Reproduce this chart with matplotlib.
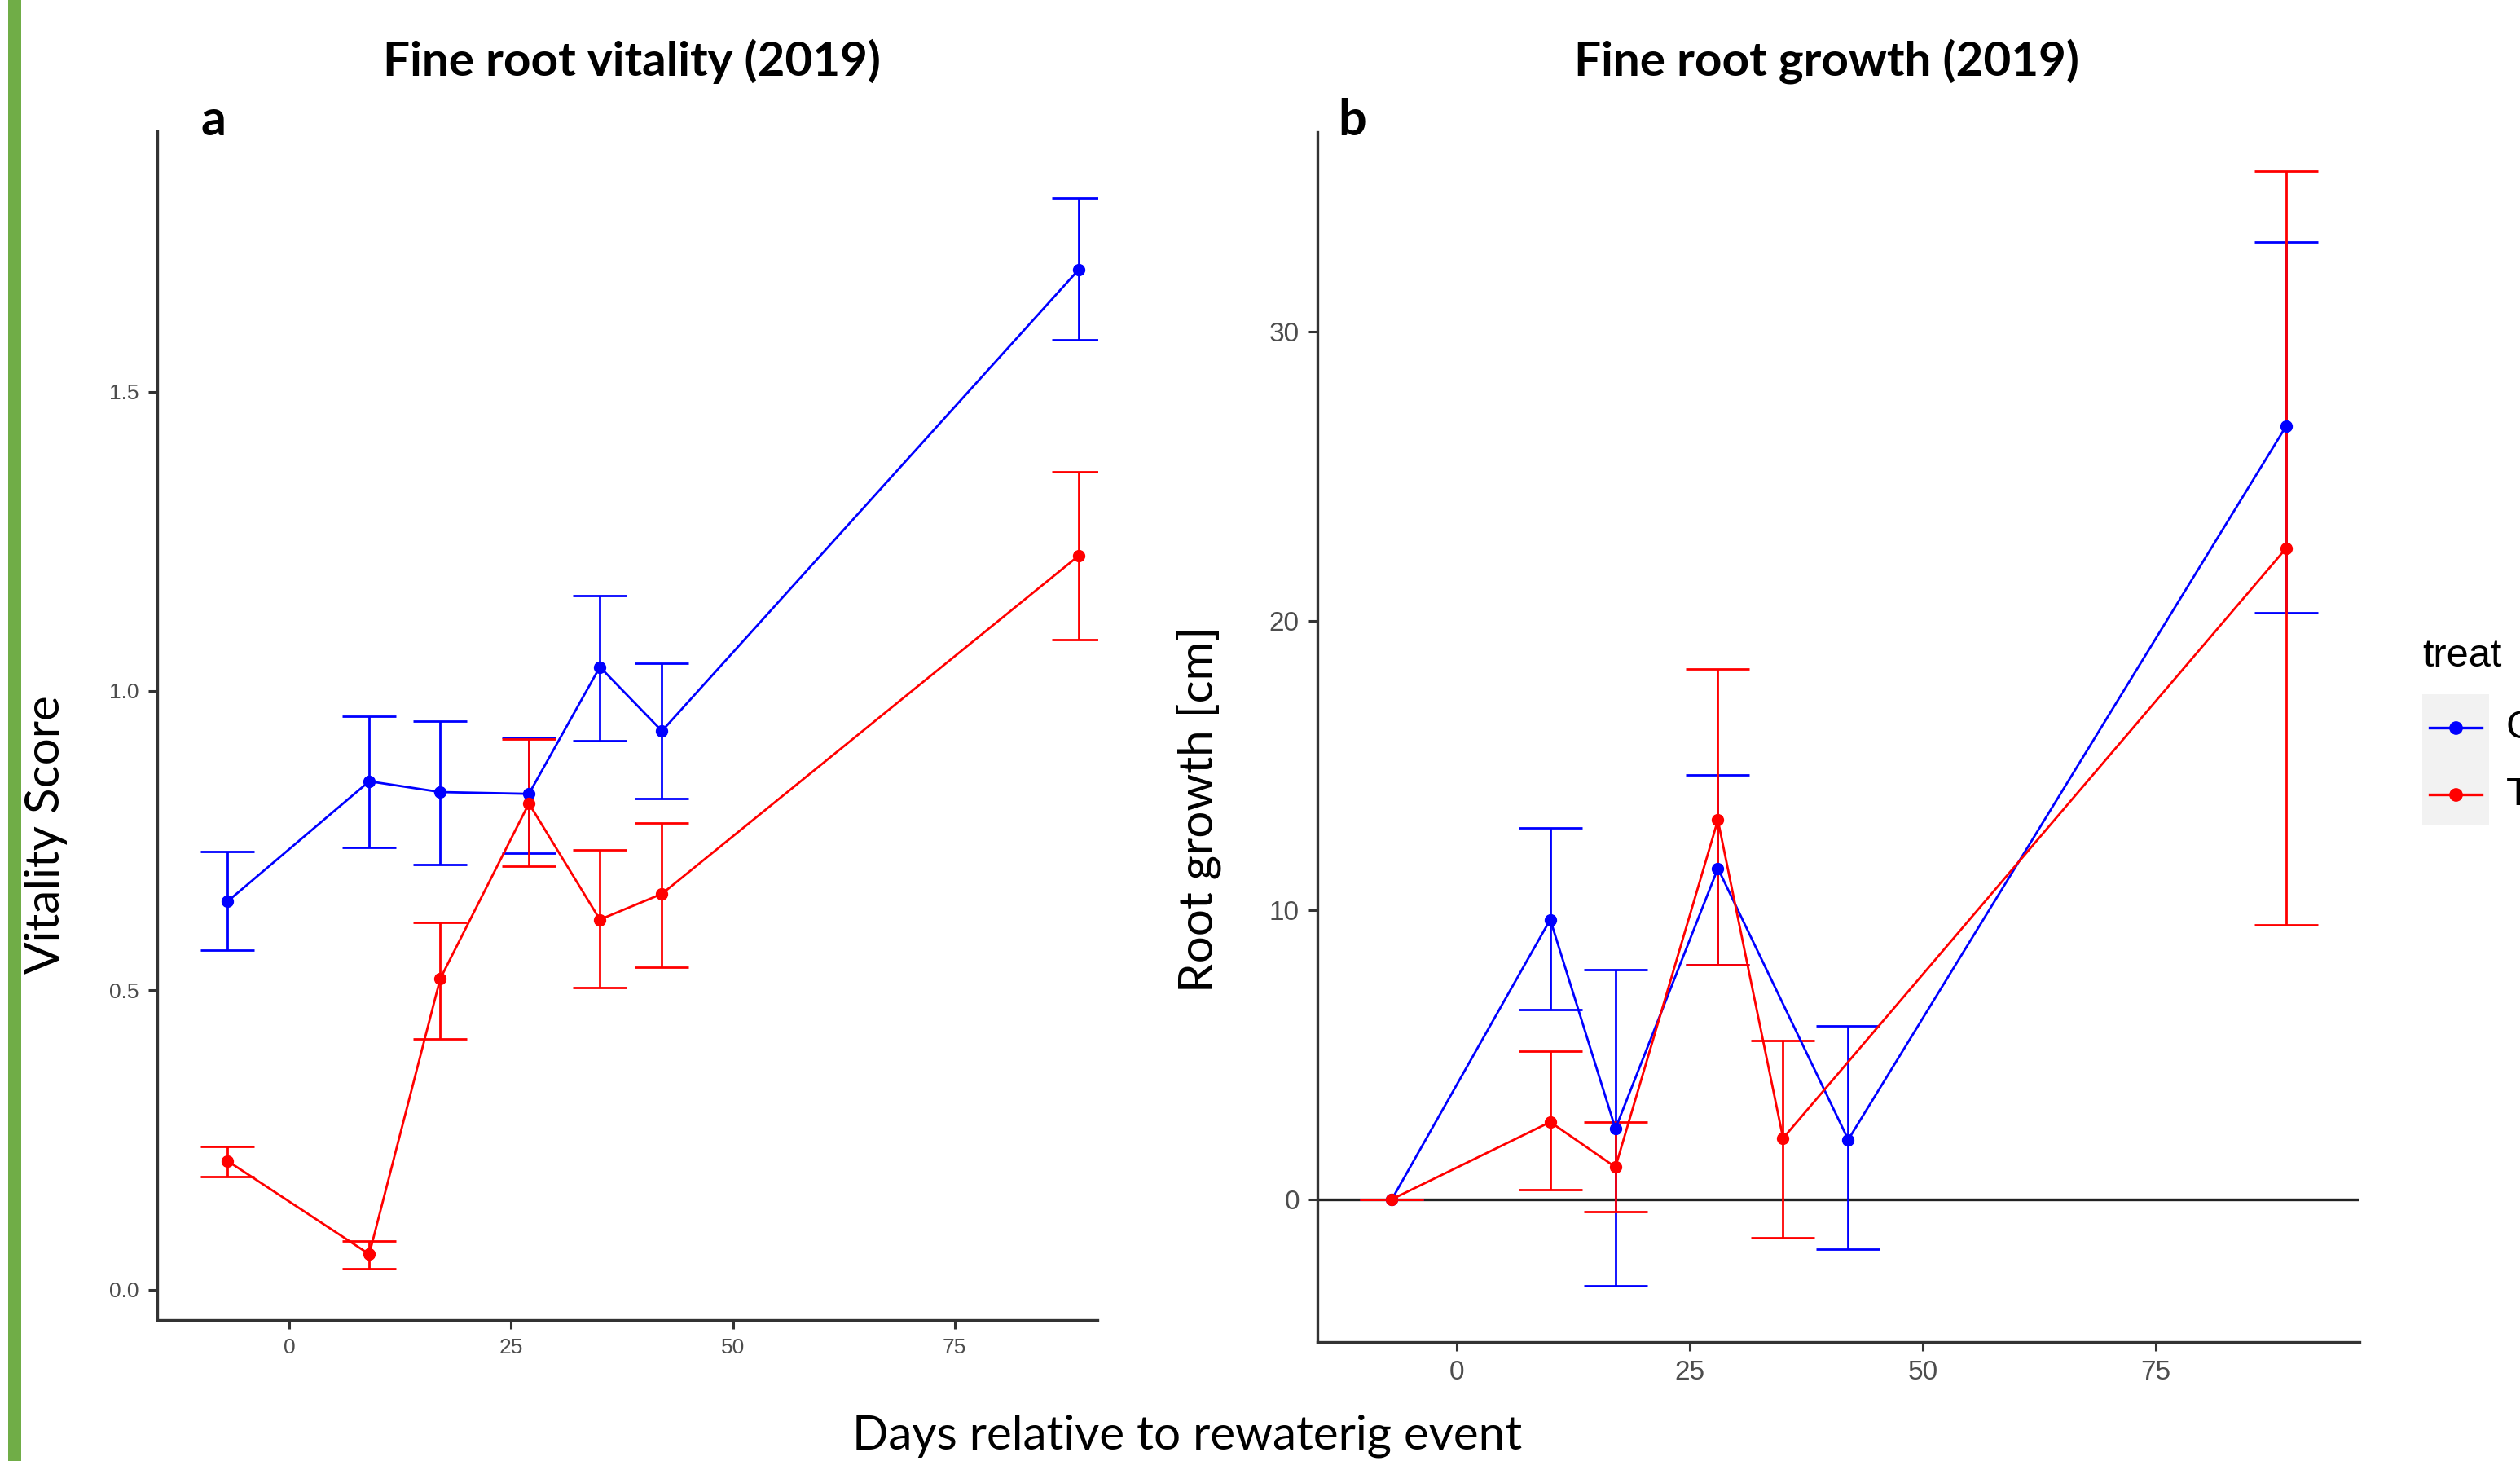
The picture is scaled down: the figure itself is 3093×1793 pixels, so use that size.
import matplotlib.pyplot as plt
from matplotlib.lines import Line2D
from matplotlib.patches import Rectangle

# ---- data ----
days_a = [-7, 9, 17, 27, 35, 42, 89]
vit_c = [0.648, 0.849, 0.831, 0.828, 1.040, 0.933, 1.704]
vit_c_lo = [0.567, 0.739, 0.710, 0.729, 0.917, 0.820, 1.586]
vit_c_hi = [0.731, 0.957, 0.949, 0.922, 1.159, 1.046, 1.823]
vit_t = [0.215, 0.059, 0.519, 0.812, 0.618, 0.661, 1.226]
vit_t_lo = [0.188, 0.035, 0.419, 0.707, 0.505, 0.538, 1.086]
vit_t_hi = [0.239, 0.081, 0.613, 0.919, 0.734, 0.780, 1.366]

days_c = [-7, 10, 17, 28, 42, 89]
grow_c = [0.0, 9.67, 2.44, 11.44, 2.06, 26.72]
grow_c_lo = [0.0, 6.56, -3.0, 8.11, -1.72, 20.28]
grow_c_hi = [0.0, 12.83, 7.94, 14.67, 6.0, 33.1]

days_t = [-7, 10, 17, 28, 35, 89]
grow_t = [0.0, 2.67, 1.11, 13.11, 2.11, 22.5]
grow_t_lo = [0.0, 0.33, -0.44, 8.11, -1.33, 9.5]
grow_t_hi = [0.0, 5.11, 2.67, 18.33, 5.5, 35.56]

BLUE = "#0000FF"
RED = "#FF0000"
AXC = "#333333"
TICKC = "#4D4D4D"
TEXTF = ["Lato", "DejaVu Sans"]
TICKF = ["Liberation Sans", "DejaVu Sans"]


def draw_series(ax, x, y, lo, hi, color, cap):
    yerr = [[v - l for v, l in zip(y, lo)], [h - v for v, h in zip(y, hi)]]
    ax.errorbar(x, y, yerr=yerr, color=color, lw=2.0, capsize=cap,
                capthick=2.0, fmt="none", zorder=2)
    ax.plot(x, y, color=color, lw=2.0, marker="o", ms=10, zorder=3)


def style_axis(ax, ticksize):
    for s in ["top", "right"]:
        ax.spines[s].set_visible(False)
    for s in ["left", "bottom"]:
        ax.spines[s].set_color(AXC)
        ax.spines[s].set_linewidth(2.4)
    ax.tick_params(colors=AXC, width=2.2, length=8, labelcolor=TICKC,
                   labelsize=ticksize, pad=8)
    for lab in ax.get_xticklabels() + ax.get_yticklabels():
        lab.set_family(TICKF)


fig = plt.figure(figsize=(30.93, 17.93), dpi=100)

# green bar on the left edge
fig.add_artist(Rectangle((10 / 3093, 0), 16 / 3093, 1, transform=fig.transFigure,
                         color="#70AD47", lw=0))

# ---- panel a ----
ax1 = fig.add_axes([0.0624, 0.0965, 0.3731, 0.8137])
draw_series(ax1, days_a, vit_c, vit_c_lo, vit_c_hi, BLUE, 24)
draw_series(ax1, days_a, vit_t, vit_t_lo, vit_t_hi, RED, 24)
ax1.set_xlim(-14.9, 91.1)
ax1.set_ylim(-0.051, 1.935)
ax1.set_xticks([0, 25, 50, 75])
ax1.set_yticks([0.0, 0.5, 1.0, 1.5])
ax1.set_yticklabels(["0.0", "0.5", "1.0", "1.5"])
style_axis(ax1, 19)
ax1.set_ylabel("Vitality Score", family=TEXTF, fontsize=42)
ax1.yaxis.set_label_coords(-0.0953, 0.4085)

# ---- panel b ----
ax2 = fig.add_axes([0.5228, 0.0814, 0.4135, 0.8282])
ax2.axhline(0, color="#222222", lw=2.4, zorder=1)
draw_series(ax2, days_c, grow_c, grow_c_lo, grow_c_hi, BLUE, 28)
draw_series(ax2, days_t, grow_t, grow_t_lo, grow_t_hi, RED, 28)
ax2.set_xlim(-15.0, 96.9)
ax2.set_ylim(-4.94, 36.9)
ax2.set_xticks([0, 25, 50, 75])
ax2.set_yticks([0, 10, 20, 30])
style_axis(ax2, 24)
ax2.set_ylabel("Root growth [cm]", family=TEXTF, fontsize=42)
ax2.yaxis.set_label_coords(-0.0923, 0.4404)

# titles and panel letters
fig.text(775 / 3093, 1 - 75 / 1793, "Fine root vitality (2019)", family=TEXTF,
         fontsize=42, fontweight="bold", ha="center", va="center")
fig.text(2242 / 3093, 1 - 75 / 1793, "Fine root growth (2019)", family=TEXTF,
         fontsize=42, fontweight="bold", ha="center", va="center")
fig.text(262 / 3093, 1 - 148 / 1793, "a", family=TEXTF, fontsize=44,
         fontweight="bold", ha="center", va="center")
fig.text(1660 / 3093, 1 - 148 / 1793, "b", family=TEXTF, fontsize=44,
         fontweight="bold", ha="center", va="center")
fig.text(1457 / 3093, 1 - 1762 / 1793, "Days relative to rewaterig event",
         family=TEXTF, fontsize=42, ha="center", va="center")

# legend, cut by the right edge as in the reference
fig.text(2973 / 3093, 1 - 805 / 1793, "treat", family=TICKF, fontsize=35,
         ha="left", va="center")
fig.add_artist(Rectangle((2973 / 3093, 1 - 1012 / 1793), 82 / 3093, 160 / 1793,
                         transform=fig.transFigure, color="#F2F2F2", lw=0))
for ypx, col, lab in [(893, BLUE, "C"), (975, RED, "T")]:
    yf = 1 - ypx / 1793
    fig.add_artist(Line2D([2982 / 3093, 3046 / 3093], [yf, yf], color=col, lw=2.4,
                          transform=fig.transFigure))
    fig.add_artist(Line2D([3014 / 3093], [yf], color=col, marker="o", ms=11,
                          lw=0, transform=fig.transFigure))
    fig.text(3076 / 3093, yf, lab, family=TICKF, fontsize=35, ha="left",
             va="center")

fig.savefig("out.png", dpi=100)
